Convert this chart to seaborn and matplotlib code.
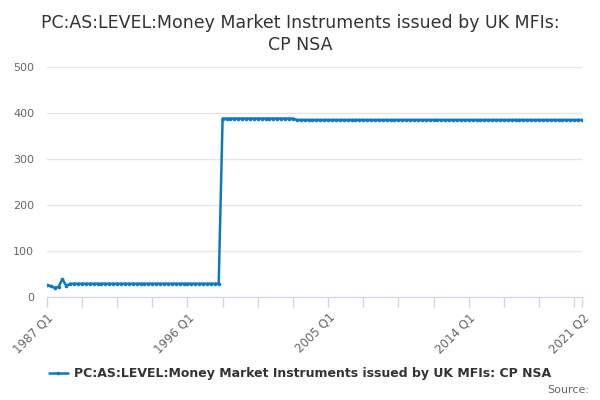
import numpy as np
import pandas as pd
import matplotlib
matplotlib.use("Agg")
import matplotlib.pyplot as plt
import seaborn as sns

# Quarterly values, 1987 Q1 .. 2021 Q2 (138 quarters)
early_values = [26, 24, 20, 22, 39, 24]          # 1987 Q1 - 1988 Q2
low_level = [29] * 39                            # 1988 Q3 - 1998 Q1
high_level = [388] * 19                          # 1998 Q2 - 2002 Q4
late_level = [385] * 74                          # 2003 Q1 - 2021 Q2
values = early_values + low_level + high_level + late_level

quarters = [f"{1987 + i // 4} Q{i % 4 + 1}" for i in range(len(values))]
label_quarters = ["1987 Q1", "1996 Q1", "2005 Q1", "2014 Q1", "2021 Q2"]
series_name = "PC:AS:LEVEL:Money Market Instruments issued by UK MFIs: CP NSA"

df = pd.DataFrame({"idx": range(len(values)), "quarter": quarters, "value": values})

sns.set_style("white")
plt.rcParams["font.family"] = ["DejaVu Sans"]

fig = plt.figure(figsize=(6, 4), dpi=100)
ax = fig.add_axes([0.078, 0.2575, 0.892, 0.575])

line_color = "#0a7bbf"
sns.lineplot(data=df, x="idx", y="value", ax=ax, color=line_color, linewidth=1.8,
             marker="o", markersize=2.6, markeredgewidth=0, label=series_name)

ax.set_xlim(0, len(values) - 1)
ax.set_ylim(0, 500)
ax.set_yticks(range(0, 501, 100))
ax.yaxis.grid(True, color="#e6e6e6", linewidth=1)
ax.set_axisbelow(True)

minor = list(range(0, len(values), 9)) + [len(values) - 1]
ax.set_xticks(minor, minor=True)
major = [quarters.index(q) for q in label_quarters]
ax.set_xticks(major)
ax.set_xticklabels(label_quarters, rotation=45, ha="right", rotation_mode="anchor",
                   fontsize=8.5, color="#666666")
ax.tick_params(axis="x", which="major", direction="out", bottom=True, length=7,
               color="#ccd6eb", width=1, pad=3)
ax.tick_params(axis="x", which="minor", direction="out", bottom=True, length=7,
               color="#ccd6eb", width=1)
ax.tick_params(axis="y", length=0, labelsize=8, labelcolor="#666666", pad=9)

for s in ["top", "right", "left"]:
    ax.spines[s].set_visible(False)
ax.spines["bottom"].set_color("#ccd6eb")
ax.set_xlabel("")
ax.set_ylabel("")

fig.suptitle("PC:AS:LEVEL:Money Market Instruments issued by UK MFIs:\nCP NSA",
             y=0.965, fontsize=12.5, color="#333333", linespacing=1.3)

leg = ax.legend(loc="upper center", frameon=False, fontsize=9,
                handlelength=1.5, handletextpad=0.5)
leg.set_bbox_to_anchor((0.5, 0.11), transform=fig.transFigure)
for t in leg.get_texts():
    t.set_fontweight("bold")
    t.set_color("#333333")

fig.text(0.982, 0.012, "Source:", ha="right", va="bottom", fontsize=8, color="#666666")

fig.savefig("out.png", dpi=100)
